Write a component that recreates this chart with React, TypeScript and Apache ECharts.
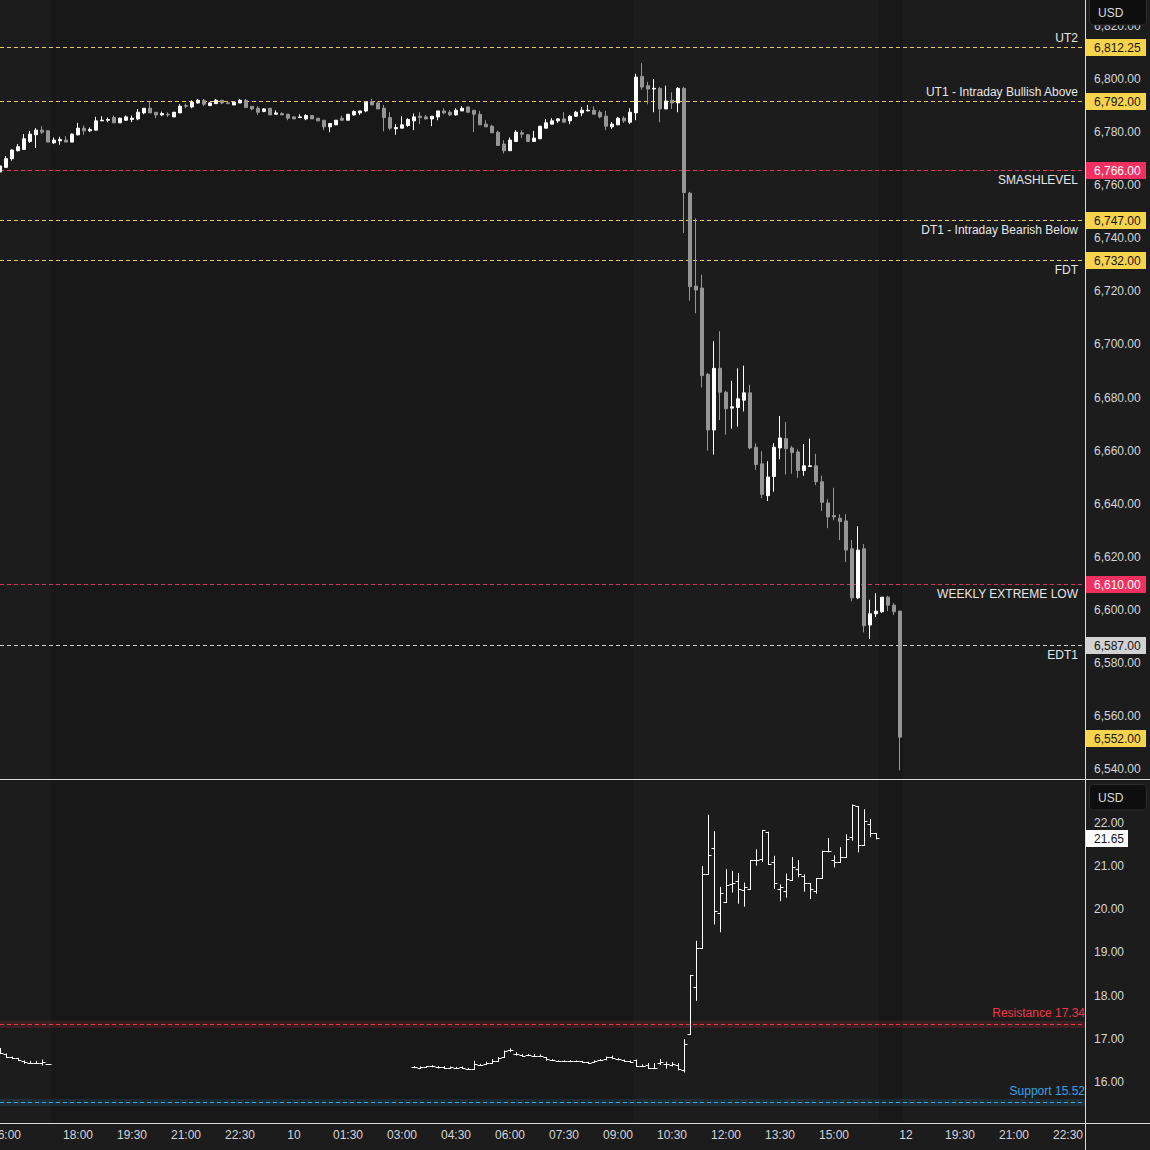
import React, { useEffect, useRef } from 'react';
import * as echarts from 'echarts';

// ---------- DATA ----------
const SLOT_COUNT = 181; // 10-minute slots across the visible window

const timeTicks: [number, string][] = [
  [1, '16:00'], [13, '18:00'], [22, '19:30'], [31, '21:00'], [40, '22:30'], [49, '10'],
  [58, '01:30'], [67, '03:00'], [76, '04:30'], [85, '06:00'], [94, '07:30'], [103, '09:00'],
  [112, '10:30'], [121, '12:00'], [130, '13:30'], [139, '15:00'], [151, '12'], [160, '19:30'],
  [169, '21:00'], [178, '22:30'],
];

// session ranges (slot indices) that are shaded darker
const darkSessions: [number, number][] = [[9, 105], [147, 150]];

// ES futures, 10-min bars from slot 0: [open, high, low, close]
const esOHLC: number[][] = [
  [6765.0, 6769.5, 6763.5, 6767.25], [6766.75, 6771.0, 6766.5, 6770.0], [6770.0, 6773.5, 6769.25, 6773.25],
  [6773.0, 6775.5, 6772.75, 6774.5], [6773.5, 6779.25, 6773.25, 6777.5], [6776.5, 6780.5, 6776.0, 6779.25],
  [6779.0, 6781.5, 6774.0, 6780.75], [6780.75, 6782.25, 6779.25, 6780.0], [6780.5, 6780.75, 6776.25, 6776.25],
  [6776.0, 6778.0, 6775.5, 6777.0], [6776.75, 6778.25, 6775.25, 6777.25], [6777.0, 6778.5, 6776.25, 6776.25],
  [6776.25, 6779.5, 6776.25, 6779.25], [6779.0, 6783.5, 6778.75, 6781.5], [6781.5, 6782.5, 6779.0, 6780.5],
  [6780.5, 6781.75, 6780.0, 6781.0], [6780.75, 6785.75, 6780.75, 6784.25], [6784.25, 6786.0, 6784.25, 6784.5],
  [6784.5, 6785.5, 6783.75, 6784.75], [6785.5, 6786.25, 6783.5, 6783.5], [6783.5, 6785.5, 6783.5, 6785.25],
  [6784.5, 6786.25, 6784.25, 6785.75], [6784.75, 6786.25, 6783.75, 6785.25], [6785.0, 6788.75, 6784.5, 6787.5],
  [6787.25, 6789.0, 6786.75, 6789.0], [6789.0, 6791.5, 6787.25, 6787.25], [6787.5, 6787.5, 6785.25, 6786.5],
  [6786.5, 6787.75, 6786.0, 6787.0], [6786.75, 6787.5, 6785.75, 6786.5], [6785.75, 6787.5, 6785.75, 6787.5],
  [6787.25, 6790.5, 6787.25, 6789.75], [6790.0, 6790.75, 6789.0, 6789.75], [6789.5, 6792.0, 6789.0, 6791.25],
  [6791.0, 6792.5, 6790.75, 6792.0], [6792.0, 6792.5, 6789.75, 6790.5], [6790.0, 6791.25, 6790.0, 6791.0],
  [6790.75, 6792.5, 6790.75, 6792.0], [6792.0, 6792.0, 6790.5, 6791.0], [6791.0, 6791.5, 6790.5, 6790.75],
  [6790.25, 6791.25, 6790.25, 6791.25], [6791.0, 6792.5, 6791.0, 6792.0], [6792.0, 6792.5, 6789.25, 6789.25],
  [6789.75, 6789.75, 6788.25, 6788.75], [6789.0, 6789.75, 6786.5, 6787.5], [6787.75, 6789.0, 6787.5, 6788.75],
  [6789.0, 6789.0, 6786.5, 6786.5], [6786.75, 6788.25, 6786.75, 6787.25], [6787.0, 6787.5, 6786.5, 6786.5],
  [6786.75, 6786.75, 6784.5, 6785.25], [6785.75, 6786.0, 6785.0, 6785.0], [6785.5, 6786.75, 6785.5, 6785.75],
  [6785.0, 6786.75, 6784.5, 6786.25], [6786.25, 6786.5, 6785.0, 6785.0], [6785.25, 6785.25, 6784.25, 6784.25],
  [6784.5, 6784.5, 6780.75, 6782.0], [6782.0, 6783.25, 6780.0, 6783.25], [6782.75, 6784.5, 6782.75, 6784.5],
  [6785.25, 6786.25, 6784.25, 6784.5], [6784.5, 6786.75, 6784.5, 6786.75], [6786.5, 6788.25, 6786.25, 6787.75],
  [6787.25, 6788.0, 6786.5, 6788.0], [6788.0, 6791.25, 6787.5, 6791.25], [6791.5, 6792.5, 6790.25, 6790.25],
  [6791.0, 6791.5, 6788.75, 6788.75], [6789.0, 6790.25, 6780.25, 6785.5], [6785.5, 6787.5, 6780.75, 6781.5],
  [6781.25, 6783.0, 6779.0, 6781.75], [6781.5, 6786.0, 6781.5, 6782.75], [6782.5, 6785.25, 6782.0, 6784.75],
  [6784.25, 6787.0, 6780.75, 6785.75], [6786.0, 6787.5, 6783.0, 6785.5], [6785.75, 6786.5, 6784.75, 6785.0],
  [6785.0, 6786.0, 6782.25, 6786.0], [6785.75, 6788.0, 6784.5, 6788.0], [6788.0, 6789.0, 6786.75, 6787.25],
  [6787.5, 6788.25, 6786.0, 6786.5], [6786.5, 6789.0, 6786.25, 6788.25], [6788.0, 6789.75, 6788.0, 6789.0],
  [6789.5, 6789.5, 6787.5, 6787.5], [6788.25, 6788.25, 6780.0, 6786.75], [6786.75, 6788.0, 6782.75, 6782.75],
  [6783.0, 6784.5, 6782.0, 6782.0], [6782.25, 6782.75, 6779.75, 6779.75], [6780.0, 6780.5, 6775.0, 6775.0],
  [6775.5, 6777.0, 6772.0, 6773.0], [6773.0, 6778.0, 6773.0, 6777.0], [6776.5, 6780.75, 6776.5, 6780.0],
  [6779.75, 6780.75, 6777.75, 6779.25], [6779.0, 6779.25, 6776.25, 6776.5], [6776.5, 6780.5, 6776.5, 6777.75],
  [6777.5, 6782.25, 6777.5, 6782.25], [6781.5, 6785.0, 6781.5, 6783.5], [6783.0, 6785.25, 6783.0, 6784.25],
  [6784.25, 6785.25, 6783.5, 6785.0], [6785.0, 6787.5, 6783.75, 6783.75], [6784.25, 6786.5, 6783.0, 6786.0],
  [6786.0, 6788.0, 6785.75, 6787.5], [6787.25, 6789.5, 6786.0, 6788.25], [6788.0, 6790.25, 6788.0, 6788.25],
  [6788.25, 6789.75, 6786.75, 6786.75], [6787.5, 6788.25, 6785.25, 6785.75], [6786.0, 6788.0, 6780.75, 6782.25],
  [6782.0, 6783.75, 6781.25, 6783.0], [6782.75, 6785.75, 6782.75, 6785.25], [6785.25, 6786.0, 6783.5, 6784.25],
  [6783.75, 6789.0, 6783.0, 6787.5], [6787.25, 6802.0, 6784.5, 6800.75], [6801.0, 6806.0, 6796.0, 6797.0],
  [6797.5, 6799.0, 6790.5, 6796.25], [6796.25, 6800.0, 6787.5, 6796.5], [6796.5, 6797.0, 6783.75, 6788.75],
  [6788.75, 6797.5, 6788.75, 6791.75], [6792.0, 6795.0, 6788.75, 6791.0], [6791.0, 6797.0, 6787.5, 6796.5],
  [6796.5, 6797.0, 6742.0, 6757.25], [6757.0, 6757.5, 6716.5, 6721.75], [6722.0, 6747.5, 6711.75, 6720.5],
  [6721.25, 6726.25, 6683.75, 6688.25], [6688.75, 6689.25, 6660.0, 6667.75], [6667.75, 6701.25, 6658.5, 6691.0],
  [6691.0, 6705.0, 6671.5, 6682.0], [6682.0, 6682.5, 6666.0, 6675.75], [6676.0, 6686.25, 6668.25, 6676.5],
  [6676.25, 6691.0, 6669.0, 6679.5], [6679.0, 6692.0, 6674.75, 6681.75], [6681.75, 6684.75, 6660.5, 6661.0],
  [6661.25, 6662.75, 6652.75, 6654.75], [6655.0, 6659.75, 6642.0, 6643.5], [6643.0, 6656.0, 6641.0, 6650.0],
  [6650.25, 6662.75, 6644.5, 6661.25], [6661.0, 6673.0, 6656.75, 6664.75], [6664.5, 6670.75, 6651.0, 6660.75],
  [6661.0, 6661.75, 6651.25, 6659.25], [6659.5, 6660.5, 6649.75, 6652.5], [6652.5, 6662.5, 6650.5, 6654.25],
  [6654.0, 6664.5, 6654.0, 6654.25], [6654.25, 6658.75, 6647.0, 6648.25], [6648.25, 6650.5, 6637.25, 6640.5],
  [6640.25, 6641.75, 6630.75, 6635.0], [6635.5, 6646.0, 6633.75, 6635.0], [6634.5, 6636.0, 6626.25, 6633.25],
  [6633.5, 6636.0, 6618.0, 6622.5], [6623.0, 6626.25, 6603.25, 6604.5], [6604.5, 6631.5, 6604.0, 6622.5],
  [6623.0, 6624.75, 6591.5, 6594.0], [6594.25, 6603.75, 6589.0, 6598.5], [6598.5, 6606.25, 6597.25, 6599.5],
  [6599.25, 6604.75, 6598.75, 6604.75], [6604.75, 6605.25, 6599.5, 6601.75], [6601.75, 6602.5, 6598.0, 6599.25],
  [6599.5, 6599.5, 6539.5, 6552.0],
];

// VIX OHLC bars [open, high, low, close]
const vixEveningStart = 0;
const vixEvening: number[][] = [
  [16.78, 16.78, 16.66, 16.68], [16.66, 16.66, 16.59, 16.59], [16.59, 16.59, 16.53, 16.55],
  [16.55, 16.56, 16.49, 16.5], [16.48, 16.5, 16.42, 16.47], [16.44, 16.49, 16.42, 16.44],
  [16.44, 16.49, 16.42, 16.44], [16.45, 16.52, 16.38, 16.46], [16.41, 16.41, 16.41, 16.41],
];
const vixSessionStart = 69;
const vixSession: number[][] = [
  [16.34, 16.37, 16.32, 16.35], [16.33, 16.36, 16.31, 16.34], [16.34, 16.37, 16.33, 16.36],
  [16.36, 16.39, 16.34, 16.36], [16.34, 16.37, 16.31, 16.35], [16.35, 16.37, 16.31, 16.33],
  [16.33, 16.36, 16.31, 16.34], [16.33, 16.35, 16.31, 16.33], [16.34, 16.36, 16.3, 16.33],
  [16.31, 16.33, 16.3, 16.31], [16.31, 16.49, 16.31, 16.41], [16.39, 16.42, 16.38, 16.4],
  [16.42, 16.47, 16.4, 16.43], [16.45, 16.53, 16.43, 16.49], [16.49, 16.58, 16.48, 16.55],
  [16.59, 16.73, 16.58, 16.72], [16.73, 16.78, 16.69, 16.73], [16.66, 16.69, 16.61, 16.64],
  [16.63, 16.65, 16.59, 16.61], [16.63, 16.65, 16.6, 16.63], [16.61, 16.65, 16.59, 16.61],
  [16.61, 16.64, 16.58, 16.61], [16.58, 16.58, 16.49, 16.53], [16.51, 16.53, 16.49, 16.51],
  [16.49, 16.5, 16.47, 16.49], [16.48, 16.5, 16.46, 16.48], [16.49, 16.51, 16.46, 16.49],
  [16.48, 16.5, 16.46, 16.48], [16.48, 16.49, 16.45, 16.46], [16.46, 16.47, 16.43, 16.45],
  [16.47, 16.5, 16.46, 16.49], [16.5, 16.53, 16.49, 16.51], [16.53, 16.59, 16.5, 16.57],
  [16.57, 16.61, 16.53, 16.56], [16.53, 16.56, 16.5, 16.53], [16.5, 16.52, 16.47, 16.49],
  [16.48, 16.5, 16.46, 16.47], [16.5, 16.52, 16.35, 16.37], [16.37, 16.41, 16.35, 16.38],
  [16.4, 16.44, 16.3, 16.32], [16.33, 16.44, 16.31, 16.33], [16.44, 16.53, 16.39, 16.47],
  [16.42, 16.47, 16.31, 16.41], [16.39, 16.46, 16.36, 16.41], [16.39, 16.44, 16.27, 16.29],
  [16.27, 16.99, 16.22, 16.87], [17.11, 18.48, 17.11, 18.48], [18.21, 19.27, 17.88, 19.1],
  [19.1, 21.0, 19.1, 20.83], [20.81, 22.19, 20.81, 21.27], [21.41, 21.81, 19.65, 19.95],
  [19.91, 20.52, 19.47, 20.37], [20.16, 20.93, 20.16, 20.56], [20.58, 20.89, 20.39, 20.62],
  [20.65, 20.84, 20.13, 20.46], [20.44, 20.62, 20.06, 20.51], [20.48, 21.14, 20.45, 21.14],
  [21.14, 21.39, 21.01, 21.14], [21.16, 21.84, 21.1, 21.84], [21.8, 21.8, 21.05, 21.05],
  [21.09, 21.24, 20.47, 20.62], [20.46, 20.58, 20.19, 20.51], [20.42, 20.83, 20.27, 20.7],
  [20.67, 21.21, 20.66, 20.98], [20.94, 21.14, 20.74, 20.81], [20.78, 20.81, 20.41, 20.6],
  [20.6, 20.6, 20.24, 20.47], [20.43, 20.72, 20.36, 20.72], [20.72, 21.36, 20.72, 21.36],
  [21.36, 21.65, 21.32, 21.36], [21.14, 21.25, 20.97, 21.09], [21.09, 21.44, 21.09, 21.21],
  [21.21, 21.74, 21.21, 21.64], [21.67, 22.43, 21.59, 22.41], [22.39, 22.39, 21.32, 21.48],
  [21.48, 22.32, 21.48, 22.04], [21.97, 22.09, 21.67, 21.76], [21.76, 21.76, 21.62, 21.65],
];

// price levels on the ES panel
const levelNames = [
  'UT2', 'UT1 - Intraday Bullish Above', 'SMASHLEVEL', 'DT1 - Intraday Bearish Below',
  'FDT', 'WEEKLY EXTREME LOW', 'EDT1',
];
const levelValues = [6812.25, 6792.0, 6766.0, 6747.0, 6732.0, 6610.0, 6587.0];

// levels on the VIX panel
const vixLevelNames = ['Resistance', 'Support'];
const vixLevelValues = [17.34, 15.52];

const esAxis = { min: 6540, max: 6820, step: 20 };
const vixAxis = { min: 15, max: 23, step: 1 };

// ---------- STYLE ----------
const FONT = '"Liberation Sans", Arial, sans-serif';
const YELLOW_LINE = '#f0ca4a';
const YELLOW_BOX = '#f8d44c';
const PINK = '#f2305f';
const GREY_LINE = '#cfcfcf';
const GREY_BOX = '#d2d2d2';
const DARK_TEXT = '#131313';
const LABEL_TEXT = '#e6e6e6';
const levelStyle = [
  { line: YELLOW_LINE, box: YELLOW_BOX, text: DARK_TEXT, above: true },
  { line: YELLOW_LINE, box: YELLOW_BOX, text: DARK_TEXT, above: true },
  { line: PINK, box: PINK, text: '#ffffff', above: false },
  { line: YELLOW_LINE, box: YELLOW_BOX, text: DARK_TEXT, above: false },
  { line: YELLOW_LINE, box: YELLOW_BOX, text: DARK_TEXT, above: false },
  { line: '#dc3361', box: PINK, text: '#ffffff', above: false },
  { line: GREY_LINE, box: GREY_BOX, text: DARK_TEXT, above: false },
];
const vixLevelStyle = [
  { color: '#f23645', band: 'rgba(242,54,69,0.14)' },
  { color: '#33a4e6', band: 'rgba(51,164,230,0.14)' },
];

const fmtPrice = (v: number) =>
  v.toLocaleString('en-US', { minimumFractionDigits: 2, maximumFractionDigits: 2 });

export default function App() {
  const ref = useRef<HTMLDivElement>(null);

  useEffect(() => {
    if (!ref.current) return;
    const chart = echarts.init(ref.current, undefined, { renderer: 'svg' });

    const slots = Array.from({ length: SLOT_COUNT }, (_, i) => String(i));
    const tickMap = new Map<number, string>(timeTicks);

    const esData = esOHLC.map(([o, h, l, c]) => [o, c, l, h]);
    const esLast = esOHLC[esOHLC.length - 1][3];

    const vixRows: number[][] = [];
    vixEvening.forEach((r, k) => vixRows.push([vixEveningStart + k, ...r]));
    vixSession.forEach((r, k) => vixRows.push([vixSessionStart + k, ...r]));
    const vixLast = vixSession[vixSession.length - 1][3];

    const axisLabelStyle = { color: '#d6d6d6', fontFamily: FONT, fontSize: 12 };

    const option: any = {
      animation: false,
      backgroundColor: '#1c1c1c',
      textStyle: { fontFamily: FONT },
      grid: [
        { left: -3, top: 26, width: 1086, height: 743, containLabel: false, outerBoundsMode: 'none' },
        { left: -3, top: 779.83, width: 1086, height: 345.33, containLabel: false, outerBoundsMode: 'none' },
      ],
      xAxis: [
        {
          type: 'category', gridIndex: 0, data: slots, boundaryGap: true,
          axisLine: { show: false }, axisTick: { show: false }, axisLabel: { show: false }, splitLine: { show: false },
        },
        {
          type: 'category', gridIndex: 1, data: slots, boundaryGap: true,
          axisLine: { show: false }, axisTick: { show: false }, splitLine: { show: false },
          axisLabel: {
            ...axisLabelStyle,
            margin: 4,
            interval: (i: number) => tickMap.has(i),
            formatter: (val: string) => tickMap.get(Number(val)) ?? '',
          },
        },
      ],
      yAxis: [
        {
          type: 'value', gridIndex: 0, position: 'right', min: esAxis.min, max: esAxis.max, interval: esAxis.step,
          axisLine: { show: false }, axisTick: { show: false }, splitLine: { show: false },
          axisLabel: { ...axisLabelStyle, margin: 11, showMinLabel: true, showMaxLabel: true, formatter: (v: number) => fmtPrice(v) },
        },
        {
          type: 'value', gridIndex: 1, position: 'right', min: vixAxis.min, max: vixAxis.max, interval: vixAxis.step,
          axisLine: { show: false }, axisTick: { show: false }, splitLine: { show: false },
          axisLabel: {
            ...axisLabelStyle, margin: 11,
            formatter: (v: number) => (v <= vixAxis.min || v >= vixAxis.max ? '' : v.toFixed(2)),
          },
        },
      ],
      series: [
        {
          type: 'candlestick', name: 'ES', xAxisIndex: 0, yAxisIndex: 0, data: esData,
          barWidth: 4, clip: false, z: 3,
          itemStyle: { color: '#ffffff', color0: '#969696', borderColor: '#ffffff', borderColor0: '#969696', borderWidth: 1 },
        },
        {
          type: 'custom', name: 'VIX', xAxisIndex: 1, yAxisIndex: 1, data: vixRows, clip: false, z: 3,
          encode: { x: 0, y: [1, 2, 3, 4] },
          renderItem: (params: any, api: any) => {
            const idx = api.value(0);
            const x = api.coord([idx, api.value(1)])[0];
            const yo = Math.round(api.coord([idx, api.value(1)])[1]) + 0.5;
            const yh = api.coord([idx, api.value(2)])[1];
            const yl = api.coord([idx, api.value(3)])[1];
            const yc = Math.round(api.coord([idx, api.value(4)])[1]) + 0.5;
            const xc = Math.round(x) + 0.5;
            const st = { stroke: '#ffffff', lineWidth: 1 };
            return {
              type: 'group',
              children: [
                { type: 'line', shape: { x1: xc, y1: Math.min(yh, yo - 0.5, yc - 0.5), x2: xc, y2: Math.max(yl, yo + 0.5, yc + 0.5) }, style: st },
                { type: 'line', shape: { x1: xc - 3, y1: yo, x2: xc, y2: yo }, style: st },
                { type: 'line', shape: { x1: xc, y1: yc, x2: xc + 3, y2: yc }, style: st },
              ],
            };
          },
        },
      ],
    };

    chart.setOption(option);

    // ---- decorations placed through the chart's own scales ----
    const px = (i: number) => chart.convertToPixel({ xAxisIndex: 0 }, i) as number;
    const pyEs = (v: number) => Math.floor(chart.convertToPixel({ yAxisIndex: 0 }, v) as number) + 1.5;
    const pyVix = (v: number) => Math.floor(chart.convertToPixel({ yAxisIndex: 1 }, v) as number) + 0.5;
    const plotRight = px(0) - 3 + SLOT_COUNT * 6; // right edge of the plotting area
    const half = 3;
    const els: any[] = [];

    darkSessions.forEach(([a, b]) => {
      els.push({
        type: 'rect', z: -5, silent: true,
        shape: { x: px(a) - half, y: 0, width: px(b) + half - (px(a) - half), height: 1123 },
        style: { fill: '#181818' },
      });
    });

    const priceBox = (y: number, text: string, bg: string, fg: string, w: number) => {
      els.push({
        type: 'rect', z: 90, silent: true,
        shape: { x: 1086, y: y - 8.5, width: w, height: 17 },
        style: { fill: bg },
      });
      els.push({
        type: 'text', z: 91, silent: true, x: 1094, y: y,
        style: { text, fill: fg, font: `12px ${FONT}`, textVerticalAlign: 'middle', textAlign: 'left' },
      });
    };

    levelValues.forEach((v, k) => {
      const s = levelStyle[k];
      const y = pyEs(v);
      els.push({
        type: 'line', z: 1, silent: true,
        shape: { x1: 0, y1: y, x2: 1085, y2: y },
        style: { stroke: s.line, lineWidth: 1, lineDash: [4, 3] },
      });
      els.push({
        type: 'text', z: 60, silent: true, x: 1078, y: s.above ? y - 10 : y + 9,
        style: { text: levelNames[k], fill: LABEL_TEXT, font: `12px ${FONT}`, textAlign: 'right', textVerticalAlign: 'middle' },
      });
      priceBox(y, fmtPrice(v), s.box, s.text, 60);
    });
    priceBox(pyEs(esLast), fmtPrice(esLast), YELLOW_BOX, DARK_TEXT, 60);

    vixLevelValues.forEach((v, k) => {
      const s = vixLevelStyle[k];
      const y = pyVix(v);
      els.push({
        type: 'rect', z: 0, silent: true,
        shape: { x: 0, y: y - 3.5, width: 1085, height: 7 },
        style: { fill: s.band },
      });
      els.push({
        type: 'line', z: 1, silent: true,
        shape: { x1: 0, y1: y, x2: 1085, y2: y },
        style: { stroke: s.color, lineWidth: 1, lineDash: [4, 3] },
      });
      els.push({
        type: 'text', z: 60, silent: true, x: 1085, y: y - 12,
        style: { text: `${vixLevelNames[k]} ${v.toFixed(2)}`, fill: s.color, font: `12px ${FONT}`, textAlign: 'right', textVerticalAlign: 'middle' },
      });
    });
    priceBox(pyVix(vixLast), vixLast.toFixed(2), '#ffffff', DARK_TEXT, 42);

    const frame = { stroke: '#dadada', lineWidth: 1 };
    els.push({ type: 'line', z: 80, silent: true, shape: { x1: 1085.5, y1: 0, x2: 1085.5, y2: 1150 }, style: frame });
    els.push({ type: 'line', z: 80, silent: true, shape: { x1: 0, y1: 779.5, x2: 1150, y2: 779.5 }, style: frame });
    els.push({ type: 'line', z: 80, silent: true, shape: { x1: 0, y1: 1123.5, x2: 1150, y2: 1123.5 }, style: frame });

    const usdBox = (y: number, h: number, ty: number) => {
      els.push({
        type: 'rect', z: 100, silent: true,
        shape: { x: 1089.5, y, width: 57, height: h, r: 4 },
        style: { fill: '#0e0e0e', stroke: '#2c2c2c', lineWidth: 1 },
      });
      els.push({
        type: 'text', z: 101, silent: true, x: 1098, y: ty,
        style: { text: 'USD', fill: '#dcdcdc', font: `12px ${FONT}`, textVerticalAlign: 'middle' },
      });
    };
    usdBox(-4, 29, 13);
    usdBox(784.5, 25.5, 797.5);

    chart.setOption({ graphic: { elements: els } });
    void plotRight;

    return () => chart.dispose();
  }, []);

  return (
    <div
      ref={ref}
      style={{ position: 'fixed', left: 0, top: 0, width: 1150, height: 1150, background: '#1c1c1c' }}
    />
  );
}
